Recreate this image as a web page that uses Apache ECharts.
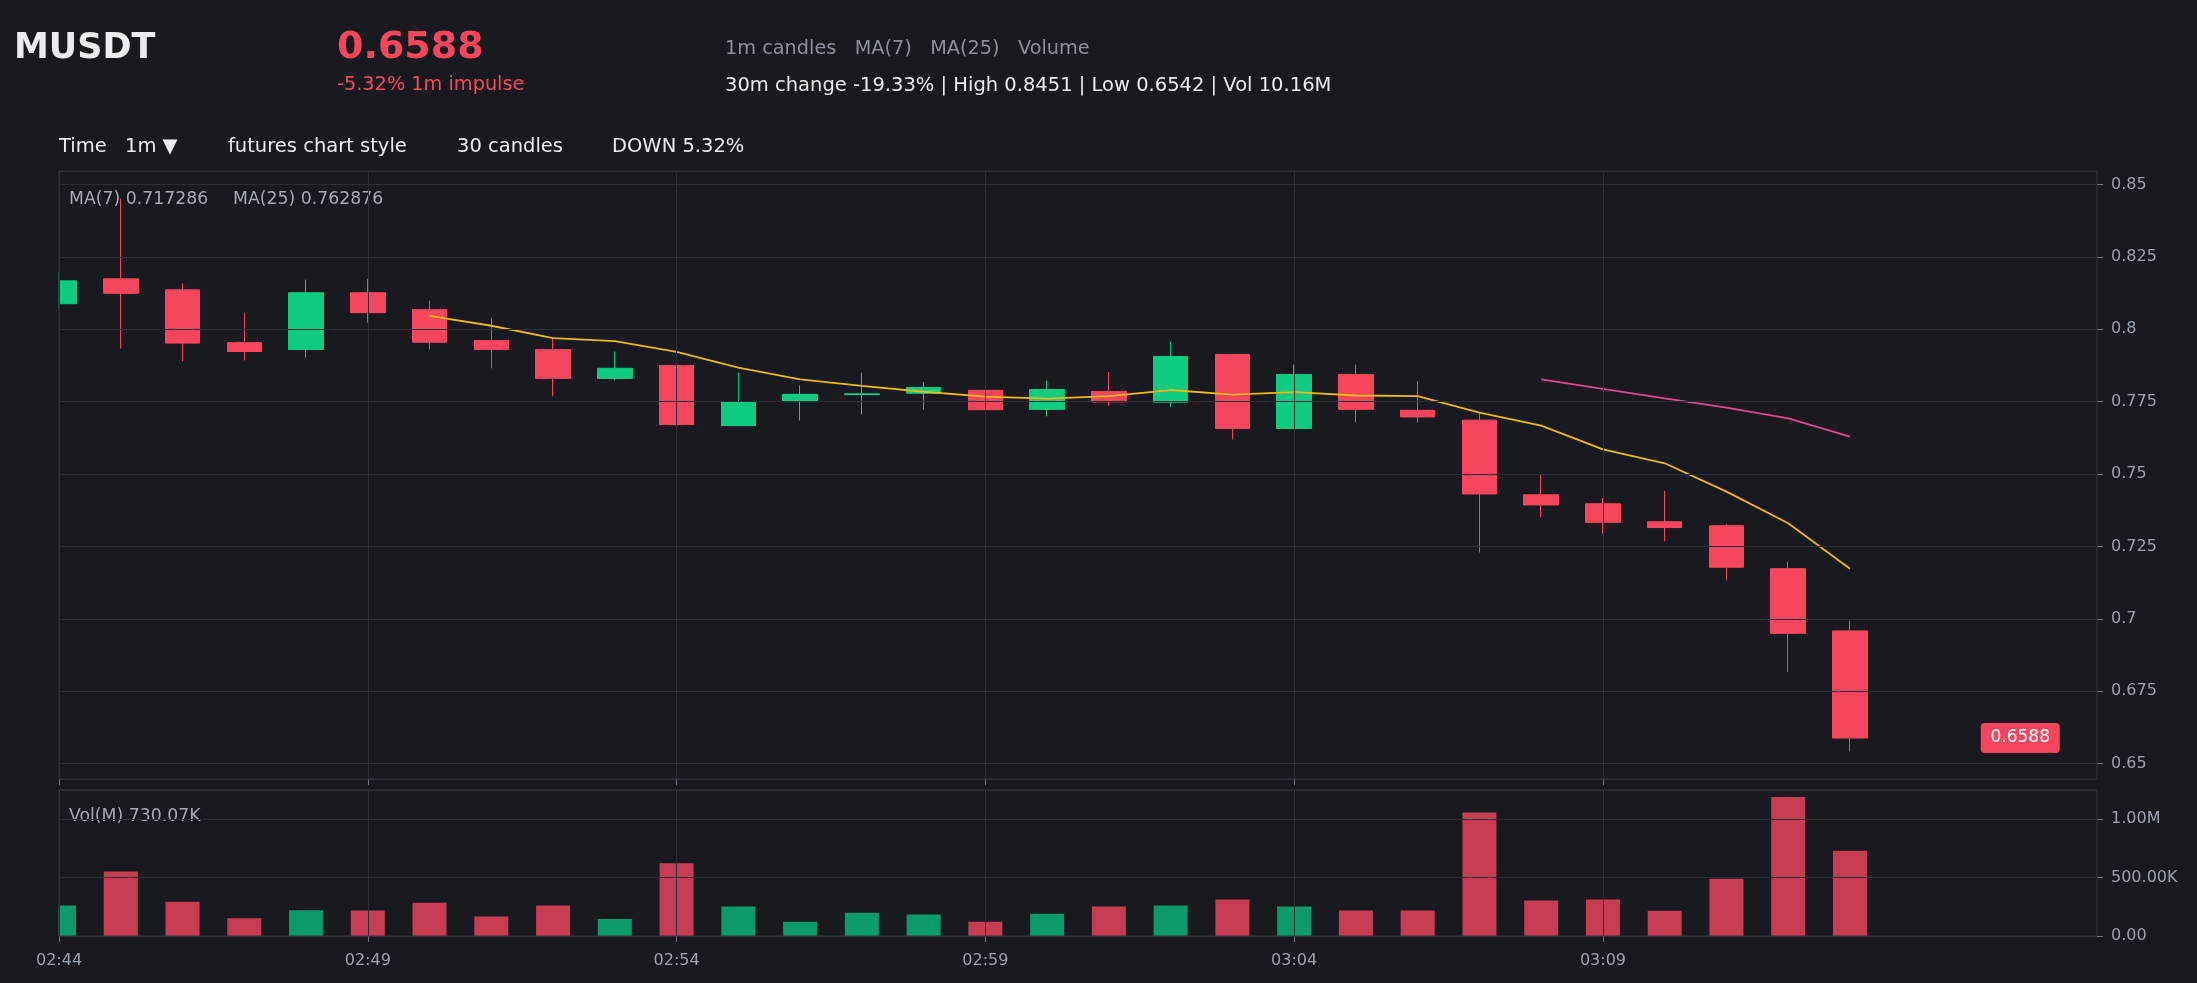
<!DOCTYPE html>
<html>
<head>
<meta charset="utf-8">
<title>MUSDT 1m</title>
<style>
  html, body { margin: 0; padding: 0; background: #181a20; }
  #chart { width: 2197px; height: 983px; }
</style>
<script src="https://cdn.jsdelivr.net/npm/echarts@6/dist/echarts.min.js"></script>
</head>
<body>
<div id="chart"></div>
<script>
// 1m candles
const times = [
    "02:44", "02:45", "02:46", "02:47", "02:48", "02:49", "02:50", "02:51", "02:52", "02:53",
    "02:54", "02:55", "02:56", "02:57", "02:58", "02:59", "03:00", "03:01", "03:02", "03:03",
    "03:04", "03:05", "03:06", "03:07", "03:08", "03:09", "03:10", "03:11", "03:12", "03:13"
];
// empty slots to the right of the last candle
const futureSlots = ["", "", "", ""];

const opens = [
    0.8088, 0.8174, 0.8136, 0.7954, 0.7930, 0.8126, 0.8068, 0.7961, 0.7930, 0.7830,
    0.7875, 0.7667, 0.7750, 0.7774, 0.7779, 0.7789, 0.7723, 0.7785, 0.7748, 0.7913,
    0.7657, 0.7844, 0.7720, 0.7686, 0.7428, 0.7397, 0.7335, 0.7321, 0.7173, 0.6958
];
const closes = [
    0.8167, 0.8124, 0.7952, 0.7923, 0.8126, 0.8057, 0.7955, 0.7930, 0.7830, 0.7865,
    0.7671, 0.7750, 0.7775, 0.7777, 0.7799, 0.7722, 0.7792, 0.7749, 0.7906, 0.7657,
    0.7844, 0.7723, 0.7697, 0.7431, 0.7393, 0.7333, 0.7315, 0.7178, 0.6949, 0.6588
];
const lows = [
    0.8070, 0.7933, 0.7890, 0.7892, 0.7902, 0.8023, 0.7930, 0.7865, 0.7768, 0.7824,
    0.7527, 0.7665, 0.7685, 0.7706, 0.7722, 0.7674, 0.7699, 0.7735, 0.7732, 0.7619,
    0.7655, 0.7678, 0.7678, 0.7229, 0.7350, 0.7295, 0.7267, 0.7133, 0.6816, 0.6542
];
const highs = [
    0.8195, 0.8451, 0.8159, 0.8057, 0.8171, 0.8174, 0.8099, 0.8040, 0.7970, 0.7923,
    0.7906, 0.7850, 0.7806, 0.7850, 0.7818, 0.7810, 0.7823, 0.7852, 0.7957, 0.7915,
    0.7878, 0.7878, 0.7820, 0.7714, 0.7500, 0.7417, 0.7442, 0.7327, 0.7197, 0.6994
];
const volumes = [
    261000, 552000, 293000, 151000, 220000, 218000, 284000, 168000, 261000, 145000,
    622000, 253000, 122000, 199000, 185000, 122000, 190000, 253000, 261000, 312000,
    253000, 219000, 218000, 1057000, 304000, 312000, 216000, 491000, 1190000, 730070
];
const ma7 = [
    null, null, null, null, null, null, 0.8046, 0.8012, 0.7969, 0.7959,
    0.7922, 0.7867, 0.7827, 0.7804, 0.7784, 0.7767, 0.7760, 0.7769, 0.7790, 0.7774,
    0.7783, 0.7771, 0.7769, 0.7712, 0.7667, 0.7585, 0.7537, 0.7439, 0.7330, 0.717286
];
const ma25 = [
    null, null, null, null, null, null, null, null, null, null,
    null, null, null, null, null, null, null, null, null, null,
    null, null, null, null, 0.7827, 0.7794, 0.7761, 0.7729, 0.7692, 0.762876
];
const volumeTicks = [0, 500000, 1000000];

const UP = "#0ecb81";
const DOWN = "#f6465d";
const BG = "#181a20";
const GRID_LINE = "#2a2e35";
const BORDER = "#30343b";
const MUTED = "#9aa1ac";
const FONT = '"DejaVu Sans", sans-serif';

// plot box, shared by the price and volume panes
const PLOT_LEFT = 59;
const PLOT_RIGHT = 100;

const categories = times.concat(futureSlots);
const priceHigh = Math.max(...highs);
const priceLow = Math.min(...lows);
const pricePad = (priceHigh - priceLow) * 0.05;
const lastClose = closes[closes.length - 1];

function everyFifth(index, value) {
    return index % 5 === 0 && value !== "";
}

function fmtVolume(v) {
    if (v >= 1e6) return (v / 1e6).toFixed(2) + "M";
    if (v >= 1e3) return (v / 1e3).toFixed(2) + "K";
    return v.toFixed(2);
}

function label(x, y, text, size, color, weight) {
    return {
        type: "text",
        x: x,
        y: y,
        silent: true,
        style: {
            text: text,
            fill: color,
            font: (weight || "normal") + " " + size + "px " + FONT,
            align: "left",
            verticalAlign: "middle"
        }
    };
}

function buildOption() {
    const candles = times.map((t, i) => [opens[i], closes[i], lows[i], highs[i]]);
    const volBars = volumes.map((v, i) => ({
        value: v,
        itemStyle: { color: closes[i] >= opens[i] ? "#0b9a6c" : "#c63c53" }
    }));

    const xBase = {
        type: "category",
        data: categories,
        boundaryGap: false,
        z: 5,
        axisLine: { show: false },
        axisTick: { show: true, interval: everyFifth, length: 6, lineStyle: { color: "#6b7280" } },
        splitLine: { show: true, interval: everyFifth, lineStyle: { color: GRID_LINE, width: 1 } }
    };

    return {
        backgroundColor: BG,
        animation: false,
        textStyle: { fontFamily: FONT },
        grid: [
            { left: PLOT_LEFT, right: PLOT_RIGHT, top: 171, height: 608, show: true, borderColor: BORDER, borderWidth: 1, z: 6 },
            { left: PLOT_LEFT, right: PLOT_RIGHT, top: 790, height: 146, show: true, borderColor: BORDER, borderWidth: 1, z: 6 }
        ],
        xAxis: [
            Object.assign({}, xBase, { gridIndex: 0, axisLabel: { show: false } }),
            Object.assign({}, xBase, {
                gridIndex: 1,
                axisLabel: { show: true, interval: everyFifth, color: MUTED, fontSize: 16, margin: 17 }
            })
        ],
        yAxis: [
            {
                type: "value",
                gridIndex: 0,
                position: "right",
                z: 5,
                min: priceLow - pricePad,
                max: priceHigh + pricePad,
                minInterval: 0.025,
                maxInterval: 0.025,
                axisLine: { show: false },
                axisTick: { show: true, length: 6, lineStyle: { color: "#6b7280" } },
                axisLabel: { color: MUTED, fontSize: 16, margin: 14, showMinLabel: false, showMaxLabel: false },
                splitLine: { lineStyle: { color: GRID_LINE, width: 1 } }
            },
            {
                type: "value",
                gridIndex: 1,
                position: "right",
                z: 5,
                min: 0,
                max: 1250000,
                interval: volumeTicks[1] - volumeTicks[0],
                axisLine: { show: false },
                axisTick: { show: true, length: 6, lineStyle: { color: "#6b7280" } },
                axisLabel: {
                    color: MUTED, fontSize: 16, margin: 14, showMaxLabel: false,
                    formatter: (v) => volumeTicks.indexOf(v) >= 0 ? fmtVolume(v) : ""
                },
                splitLine: { lineStyle: { color: GRID_LINE, width: 1 } }
            }
        ],
        series: [
            {
                name: "Price",
                type: "candlestick",
                xAxisIndex: 0,
                yAxisIndex: 0,
                data: candles,
                barWidth: 35,
                clip: true,
                itemStyle: {
                    color: UP, color0: DOWN,
                    borderColor: UP, borderColor0: DOWN,
                    borderWidth: 1
                },
                markPoint: {
                    silent: true,
                    symbol: "path://M4,0 H75 Q79,0 79,4 V26 Q79,30 75,30 H4 Q0,30 0,26 V4 Q0,0 4,0 Z",
                    symbolSize: [79, 30],
                    symbolOffset: [-15, 0],
                    itemStyle: { color: DOWN },
                    label: { show: true, color: "#ffffff", fontSize: 17, fontFamily: FONT, formatter: () => lastClose.toFixed(4) },
                    data: [{ coord: [32, lastClose] }]
                }
            },
            {
                name: "MA(7)",
                type: "line",
                xAxisIndex: 0,
                yAxisIndex: 0,
                data: ma7,
                showSymbol: false,
                lineStyle: { color: "#f0b90b", width: 1.8 }
            },
            {
                name: "MA(25)",
                type: "line",
                xAxisIndex: 0,
                yAxisIndex: 0,
                data: ma25,
                showSymbol: false,
                lineStyle: { color: "#e2498f", width: 1.8 }
            },
            {
                name: "Volume",
                type: "bar",
                xAxisIndex: 1,
                yAxisIndex: 1,
                data: volBars,
                barWidth: 34,
                clip: true
            }
        ],
        graphic: [
            // the first candle sits on the left edge: mask what spills past the plot
            {
                type: "rect",
                z: 4,
                silent: true,
                shape: { x: 0, y: 165, width: PLOT_LEFT - 0.5, height: 772 },
                style: { fill: BG }
            },
            label(14, 49, "MUSDT", 35, "#eaecef", "bold"),
            label(337, 48, "0.6588", 38, DOWN, "bold"),
            label(337, 85, "-5.32% 1m impulse", 19.3, DOWN),
            label(725, 49, "1m candles   MA(7)   MA(25)   Volume", 19.3, "#8a909a"),
            label(725, 86, "30m change -19.33% | High 0.8451 | Low 0.6542 | Vol 10.16M", 19.5, "#eaecef"),
            label(59, 147, "Time", 19.5, "#eaecef"),
            label(125, 147, "1m \u25BC", 19.5, "#eaecef"),
            label(228, 147, "futures chart style", 19.5, "#eaecef"),
            label(457, 147, "30 candles", 19.5, "#eaecef"),
            label(612, 147, "DOWN 5.32%", 19.5, "#eaecef"),
            label(69, 200, "MA(7) " + ma7[ma7.length - 1], 17.3, "#a3a9b3"),
            label(233, 200, "MA(25) " + ma25[ma25.length - 1], 17.3, "#a3a9b3"),
            label(69, 817, "Vol(M) " + fmtVolume(volumes[volumes.length - 1]), 17.3, "#a3a9b3")
        ]
    };
}

try {
    const el = document.getElementById("chart");
    const chart = echarts.init(el, null, { renderer: "canvas" });
    chart.setOption(buildOption());
} catch (e) {
    console.error("[chart] failed to render:", e);
}
</script>
</body>
</html>
